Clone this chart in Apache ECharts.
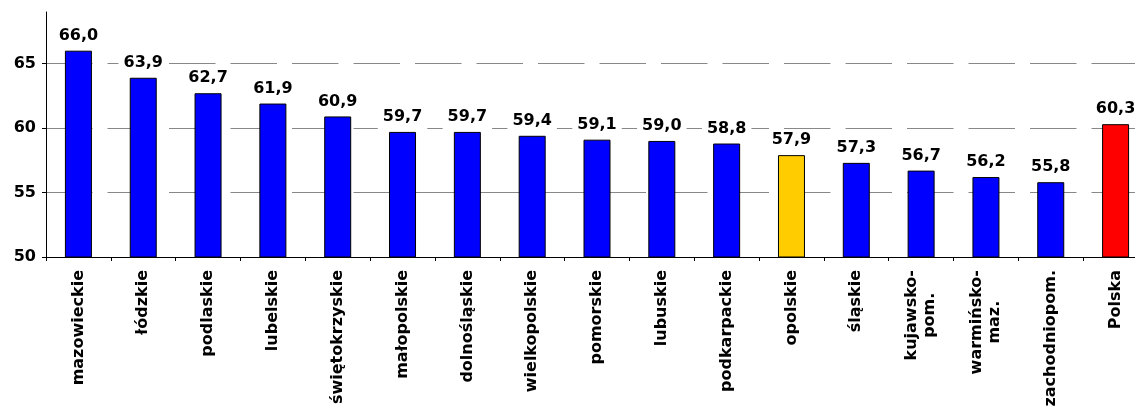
<!DOCTYPE html>
<html>
<head>
<meta charset="utf-8">
<script src="https://cdn.jsdelivr.net/npm/echarts@6/dist/echarts.min.js"></script>
<style>
html,body{margin:0;padding:0;background:#fff;}
#chart{width:1135px;height:410px;}
</style>
</head>
<body>
<div id="chart"></div>
<script>
const categories = ['mazowieckie','łódzkie','podlaskie','lubelskie','świętokrzyskie','małopolskie','dolnośląskie','wielkopolskie','pomorskie','lubuskie','podkarpackie','opolskie','śląskie','kujawsko-\npom.','warmińsko-\nmaz.','zachodniopom.','Polska'];
const values = [66.0,63.9,62.7,61.9,60.9,59.7,59.7,59.4,59.1,59.0,58.8,57.9,57.3,56.7,56.2,55.8,60.3];
const yTicks = [50,55,60,65];

const FONT = 'DejaVu Sans';
const colorFor = (name) => name === 'opolskie' ? '#FFCC00' : (name === 'Polska' ? '#FF0000' : '#0000FF');

const chart = echarts.init(document.getElementById('chart'), null, {renderer:'canvas'});
chart.setOption({
  animation:false,
  backgroundColor:'#fff',
  grid:{left:46, width:1102, top:12, height:245, containLabel:false, outerBoundsMode:'none'},
  xAxis:{
    type:'category',
    data:categories,
    axisLine:{lineStyle:{color:'#000', width:1}},
    axisTick:{show:true, length:4, lineStyle:{color:'#000'}, alignWithLabel:false},
    axisLabel:{
      rotate:90, interval:0, margin:13,
      fontFamily:FONT, fontWeight:'bold', fontSize:16, color:'#000',
      formatter:(v)=> v.indexOf('\n') >= 0 ? v.split('\n').map(s=>'{c|'+s+'}').join('\n') : v,
      rich:{c:{align:'center', fontFamily:FONT, fontWeight:'bold', fontSize:16, color:'#000', lineHeight:18}}
    },
    splitLine:{show:false}
  },
  yAxis:{
    type:'value', min:50, max:69,
    axisLine:{show:true, lineStyle:{color:'#000', width:1}},
    axisTick:{show:true, length:4, lineStyle:{color:'#000'}, customValues:yTicks},
    axisLabel:{fontFamily:FONT, fontWeight:'bold', fontSize:16, color:'#000', margin:10, customValues:yTicks},
    splitLine:{show:true, lineStyle:{color:'#888888', width:1, type:[46.5,15], dashOffset:0}}
  },
  series:[{
    type:'bar',
    barWidth:27,
    data: values.map((v,i)=>({value:v, itemStyle:{color:colorFor(categories[i])}})),
    itemStyle:{borderColor:'#000', borderWidth:1},
    label:{
      show:true, position:'top', distance:2,
      fontFamily:FONT, fontWeight:'bold', fontSize:16, color:'#000',
      backgroundColor:'#fff', padding:[3,5,5,5],
      formatter:(p)=> p.value.toFixed(1).replace('.',',')
    }
  }]
});
</script>
</body>
</html>
